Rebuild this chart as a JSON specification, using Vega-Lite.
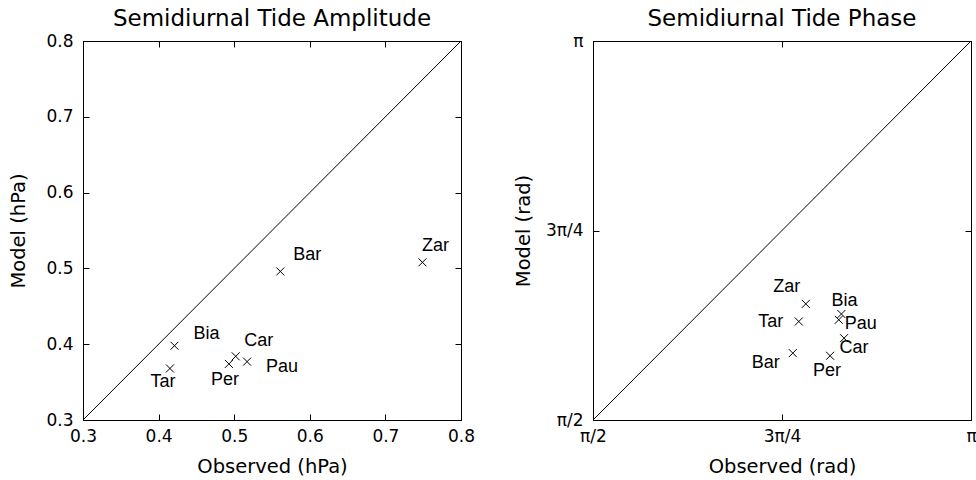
{
  "$schema": "https://vega.github.io/schema/vega-lite/v6.json",
  "background": "white",
  "padding": {"left": 8, "top": 7, "right": 0, "bottom": 0},
  "spacing": 36,
  "config": {
    "view": {"stroke": "black", "strokeWidth": 1},
    "axis": {
      "grid": false,
      "domainColor": "black",
      "domainWidth": 1,
      "tickColor": "black",
      "tickWidth": 1,
      "tickSize": -6,
      "labelColor": "black",
      "labelFont": "DejaVu Sans",
      "labelFontSize": 17,
      "labelFlush": false,
      "labelOverlap": false,
      "titleColor": "black",
      "titleFont": "DejaVu Sans",
      "titleFontSize": 19.5,
      "titleFontWeight": "normal"
    },
    "axisX": {"labelPadding": 14.5, "titlePadding": 13},
    "axisY": {"labelPadding": 16, "titlePadding": 17},
    "title": {"font": "DejaVu Sans", "fontSize": 23, "fontWeight": "normal", "color": "black", "frame": "group", "offset": 1}
  },
  "datasets": {
    "amp": [
      {"station": "Bar", "observed": 0.561, "model": 0.496},
      {"station": "Zar", "observed": 0.749, "model": 0.508},
      {"station": "Bia", "observed": 0.421, "model": 0.398},
      {"station": "Tar", "observed": 0.415, "model": 0.368},
      {"station": "Per", "observed": 0.493, "model": 0.374},
      {"station": "Car", "observed": 0.502, "model": 0.384},
      {"station": "Pau", "observed": 0.517, "model": 0.377}
    ],
    "phase": [
      {"station": "Zar", "observed": 2.455, "model": 2.052},
      {"station": "Tar", "observed": 2.426, "model": 1.979},
      {"station": "Bia", "observed": 2.603, "model": 2.010},
      {"station": "Pau", "observed": 2.592, "model": 1.986},
      {"station": "Car", "observed": 2.614, "model": 1.910},
      {"station": "Bar", "observed": 2.401, "model": 1.848},
      {"station": "Per", "observed": 2.556, "model": 1.837}
    ],
    "ampDiag": [{"x": 0.3, "y": 0.3, "x2": 0.8, "y2": 0.8}],
    "phaseDiag": [{"x": 1.5707963, "y": 1.5707963, "x2": 3.1415927, "y2": 3.1415927}]
  },
  "hconcat": [
    {
      "width": 378,
      "height": 379,
      "title": "Semidiurnal Tide Amplitude",
      "resolve": {"axis": {"x": "independent", "y": "independent"}},
      "layer": [
        {
          "data": {"name": "ampDiag"},
          "mark": {"type": "rule", "color": "black", "strokeWidth": 1},
          "encoding": {
            "x": {"field": "x", "type": "quantitative", "scale": {"domain": [0.3, 0.8], "nice": false, "zero": false}, "axis": {"orient": "top", "labels": false, "title": null, "values": [0.3, 0.4, 0.5, 0.6, 0.7, 0.8]}},
            "y": {"field": "y", "type": "quantitative", "scale": {"domain": [0.3, 0.8], "nice": false, "zero": false}, "axis": {"orient": "right", "labels": false, "title": null, "values": [0.3, 0.4, 0.5, 0.6, 0.7, 0.8]}},
            "x2": {"field": "x2"},
            "y2": {"field": "y2"}
          }
        },
        {
          "data": {"name": "amp"},
          "mark": {"type": "point", "shape": "M-1,-1L1,1M1,-1L-1,1", "filled": false, "stroke": "black", "strokeWidth": 1, "size": 64, "opacity": 1},
          "encoding": {
            "x": {"field": "observed", "type": "quantitative", "axis": {"orient": "bottom", "title": "Observed (hPa)", "values": [0.3, 0.4, 0.5, 0.6, 0.7, 0.8], "format": ".1f"}},
            "y": {"field": "model", "type": "quantitative", "axis": {"orient": "left", "title": "Model (hPa)", "values": [0.3, 0.4, 0.5, 0.6, 0.7, 0.8], "format": ".1f"}}
          }
        },
        {"data": {"name": "amp"}, "transform": [{"filter": "datum.station == 'Bar'"}], "mark": {"type": "text", "font": "Liberation Sans", "fontSize": 18, "color": "black", "dx": 27, "dy": -16}, "encoding": {"x": {"field": "observed", "type": "quantitative", "axis": null}, "y": {"field": "model", "type": "quantitative", "axis": null}, "text": {"field": "station"}}},
        {"data": {"name": "amp"}, "transform": [{"filter": "datum.station == 'Zar'"}], "mark": {"type": "text", "font": "Liberation Sans", "fontSize": 18, "color": "black", "dx": 13, "dy": -16}, "encoding": {"x": {"field": "observed", "type": "quantitative", "axis": null}, "y": {"field": "model", "type": "quantitative", "axis": null}, "text": {"field": "station"}}},
        {"data": {"name": "amp"}, "transform": [{"filter": "datum.station == 'Bia'"}], "mark": {"type": "text", "font": "Liberation Sans", "fontSize": 18, "color": "black", "dx": 32, "dy": -12}, "encoding": {"x": {"field": "observed", "type": "quantitative", "axis": null}, "y": {"field": "model", "type": "quantitative", "axis": null}, "text": {"field": "station"}}},
        {"data": {"name": "amp"}, "transform": [{"filter": "datum.station == 'Tar'"}], "mark": {"type": "text", "font": "Liberation Sans", "fontSize": 18, "color": "black", "dx": -7, "dy": 14}, "encoding": {"x": {"field": "observed", "type": "quantitative", "axis": null}, "y": {"field": "model", "type": "quantitative", "axis": null}, "text": {"field": "station"}}},
        {"data": {"name": "amp"}, "transform": [{"filter": "datum.station == 'Per'"}], "mark": {"type": "text", "font": "Liberation Sans", "fontSize": 18, "color": "black", "dx": -4, "dy": 16}, "encoding": {"x": {"field": "observed", "type": "quantitative", "axis": null}, "y": {"field": "model", "type": "quantitative", "axis": null}, "text": {"field": "station"}}},
        {"data": {"name": "amp"}, "transform": [{"filter": "datum.station == 'Car'"}], "mark": {"type": "text", "font": "Liberation Sans", "fontSize": 18, "color": "black", "dx": 23, "dy": -15}, "encoding": {"x": {"field": "observed", "type": "quantitative", "axis": null}, "y": {"field": "model", "type": "quantitative", "axis": null}, "text": {"field": "station"}}},
        {"data": {"name": "amp"}, "transform": [{"filter": "datum.station == 'Pau'"}], "mark": {"type": "text", "font": "Liberation Sans", "fontSize": 18, "color": "black", "dx": 35, "dy": 5}, "encoding": {"x": {"field": "observed", "type": "quantitative", "axis": null}, "y": {"field": "model", "type": "quantitative", "axis": null}, "text": {"field": "station"}}}
      ]
    },
    {
      "width": 378,
      "height": 379,
      "title": "Semidiurnal Tide Phase",
      "resolve": {"axis": {"x": "independent", "y": "independent"}},
      "layer": [
        {
          "data": {"name": "phaseDiag"},
          "mark": {"type": "rule", "color": "black", "strokeWidth": 1},
          "encoding": {
            "x": {"field": "x", "type": "quantitative", "scale": {"domain": [1.5707963, 3.1415927], "nice": false, "zero": false}, "axis": {"orient": "top", "labels": false, "title": null, "values": [1.5707963, 2.3561945, 3.1415927]}},
            "y": {"field": "y", "type": "quantitative", "scale": {"domain": [1.5707963, 3.1415927], "nice": false, "zero": false}, "axis": {"orient": "right", "labels": false, "title": null, "values": [1.5707963, 2.3561945, 3.1415927]}},
            "x2": {"field": "x2"},
            "y2": {"field": "y2"}
          }
        },
        {
          "data": {"name": "phase"},
          "mark": {"type": "point", "shape": "M-1,-1L1,1M1,-1L-1,1", "filled": false, "stroke": "black", "strokeWidth": 1, "size": 64, "opacity": 1},
          "encoding": {
            "x": {"field": "observed", "type": "quantitative", "axis": {"orient": "bottom", "title": "Observed (rad)", "values": [1.5707963, 2.3561945, 3.1415927], "labelExpr": "datum.value < 2 ? 'π/2' : datum.value < 3 ? '3π/4' : 'π'"}},
            "y": {"field": "model", "type": "quantitative", "axis": {"orient": "left", "title": "Model (rad)", "values": [1.5707963, 2.3561945, 3.1415927], "labelExpr": "datum.value < 2 ? 'π/2' : datum.value < 3 ? '3π/4' : 'π'", "titlePadding": 12}}
          }
        },
        {"data": {"name": "phase"}, "transform": [{"filter": "datum.station == 'Zar'"}], "mark": {"type": "text", "font": "Liberation Sans", "fontSize": 18, "color": "black", "dx": -19, "dy": -17}, "encoding": {"x": {"field": "observed", "type": "quantitative", "axis": null}, "y": {"field": "model", "type": "quantitative", "axis": null}, "text": {"field": "station"}}},
        {"data": {"name": "phase"}, "transform": [{"filter": "datum.station == 'Tar'"}], "mark": {"type": "text", "font": "Liberation Sans", "fontSize": 18, "color": "black", "dx": -28, "dy": 0}, "encoding": {"x": {"field": "observed", "type": "quantitative", "axis": null}, "y": {"field": "model", "type": "quantitative", "axis": null}, "text": {"field": "station"}}},
        {"data": {"name": "phase"}, "transform": [{"filter": "datum.station == 'Bia'"}], "mark": {"type": "text", "font": "Liberation Sans", "fontSize": 18, "color": "black", "dx": 3, "dy": -13}, "encoding": {"x": {"field": "observed", "type": "quantitative", "axis": null}, "y": {"field": "model", "type": "quantitative", "axis": null}, "text": {"field": "station"}}},
        {"data": {"name": "phase"}, "transform": [{"filter": "datum.station == 'Pau'"}], "mark": {"type": "text", "font": "Liberation Sans", "fontSize": 18, "color": "black", "dx": 22, "dy": 4}, "encoding": {"x": {"field": "observed", "type": "quantitative", "axis": null}, "y": {"field": "model", "type": "quantitative", "axis": null}, "text": {"field": "station"}}},
        {"data": {"name": "phase"}, "transform": [{"filter": "datum.station == 'Car'"}], "mark": {"type": "text", "font": "Liberation Sans", "fontSize": 18, "color": "black", "dx": 10, "dy": 10}, "encoding": {"x": {"field": "observed", "type": "quantitative", "axis": null}, "y": {"field": "model", "type": "quantitative", "axis": null}, "text": {"field": "station"}}},
        {"data": {"name": "phase"}, "transform": [{"filter": "datum.station == 'Bar'"}], "mark": {"type": "text", "font": "Liberation Sans", "fontSize": 18, "color": "black", "dx": -27, "dy": 10}, "encoding": {"x": {"field": "observed", "type": "quantitative", "axis": null}, "y": {"field": "model", "type": "quantitative", "axis": null}, "text": {"field": "station"}}},
        {"data": {"name": "phase"}, "transform": [{"filter": "datum.station == 'Per'"}], "mark": {"type": "text", "font": "Liberation Sans", "fontSize": 18, "color": "black", "dx": -3, "dy": 15}, "encoding": {"x": {"field": "observed", "type": "quantitative", "axis": null}, "y": {"field": "model", "type": "quantitative", "axis": null}, "text": {"field": "station"}}}
      ]
    }
  ]
}
